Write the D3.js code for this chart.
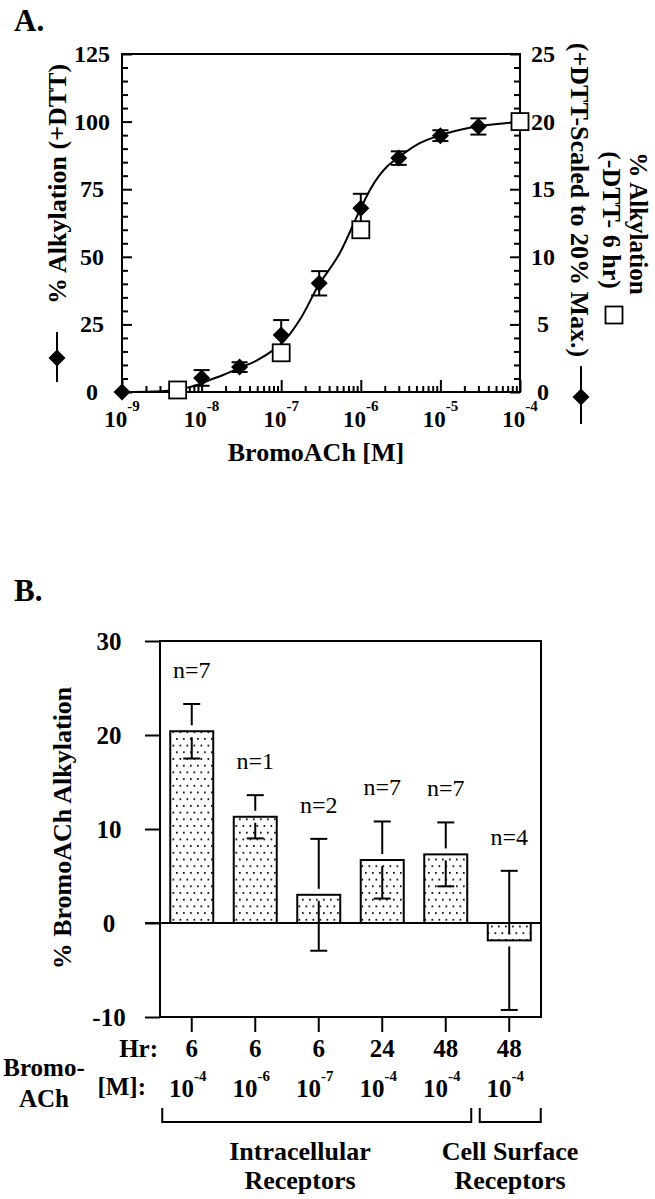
<!DOCTYPE html>
<html><head><meta charset="utf-8">
<script src="https://cdn.jsdelivr.net/npm/d3@7"></script>
<style>
html,body{margin:0;padding:0;background:#fff;}
svg text{font-family:"Liberation Serif","Times New Roman",serif;fill:#000;}
</style></head>
<body>
<svg id="c" width="655" height="1199"></svg>
<script>
// ---------- Panel A data ----------
const concA = [1e-9, 1e-8, 3e-8, 1e-7, 3e-7, 1e-6, 3e-6, 1e-5, 3e-5, 1e-4];
const alkDTT = [0, 5.2, 9.2, 21.1, 40.2, 68, 86.5, 94.8, 98.2, 100];
const alkDTTErr = [0, 2.9, 1.8, 5.5, 4.5, 5.3, 2.5, 2, 3, 0];
const concSq = [5e-9, 1e-7, 1e-6, 1e-4];
const alkNoDTT = [0.15, 2.9, 12.0, 20.0];           // right axis units
const curveExp = [-9, -8.5, -8.3, -8.15, -8.06, -7.9, -7.73, -7.52, -7.3, -7.1, -6.99, -6.76, -6.54, -6.26, -6.0, -5.88, -5.67, -5.55, -5.26, -5.02, -4.75, -4.55, -4.25, -4];
const curveVal = [0, 0.3, 1.0, 1.8, 2.6, 4.4, 6.3, 8.9, 11.8, 15.5, 18.1, 27, 39, 51.6, 68, 75, 83.4, 86.2, 92, 94.8, 97, 98.2, 99.2, 100];
const yTicksLeft = [0, 25, 50, 75, 100, 125];
const yTicksRight = [0, 5, 10, 15, 20, 25];
const xTickExp = [-9, -8, -7, -6, -5, -4];

// ---------- Panel B data ----------
const hrs = ["6", "6", "6", "24", "48", "48"];
const concExpB = ["-4", "-6", "-7", "-4", "-4", "-4"];
const meansB = [20.4, 11.3, 3.0, 6.7, 7.3, -1.85];
const errsB = [2.9, 2.3, 5.95, 4.1, 3.4, 7.4];
const nsB = [7, 1, 2, 7, 7, 4];
const yTicksB = [-10, 0, 10, 20, 30];

const svg = d3.select("#c");
const BOLD = "bold";

// pattern
const defs = svg.append("defs");
const pat = defs.append("pattern").attr("id", "dots").attr("patternUnits", "userSpaceOnUse")
  .attr("width", 7).attr("height", 13.4);
pat.append("rect").attr("width", 7).attr("height", 13.4).attr("fill", "#fff");
pat.append("rect").attr("x", 1).attr("y", 1).attr("width", 1.7).attr("height", 1.7).attr("fill", "#000");
pat.append("rect").attr("x", 4.5).attr("y", 7.7).attr("width", 1.7).attr("height", 1.7).attr("fill", "#000");

// ================= Panel A =================
const xA = d3.scaleLog().domain([1e-9, 1e-4]).range([122, 520]);
const yA = d3.scaleLinear().domain([0, 125]).range([392, 54]);
const yA2 = d3.scaleLinear().domain([0, 25]).range([392, 54]);
const gA = svg.append("g");

svg.append("text").attr("x", 14).attr("y", 31).attr("font-size", 31).attr("font-weight", BOLD).text("A.");

// frame
gA.append("rect").attr("x", xA.range()[0]).attr("y", yA.range()[1])
  .attr("width", xA.range()[1] - xA.range()[0]).attr("height", yA.range()[0] - yA.range()[1])
  .attr("fill", "none").attr("stroke", "#000").attr("stroke-width", 2);

// left ticks (inward)
const leftAxis = d3.axisRight(yA).tickValues(d3.range(0, 126, 5)).tickSize(6).tickFormat("");
const gl = gA.append("g").attr("transform", `translate(${xA.range()[0]},0)`).call(leftAxis);
gl.select(".domain").remove();
gl.selectAll(".tick line").attr("stroke-width", 2).attr("x2", d => d % 25 === 0 ? 10 : 6);
// right ticks (inward)
const rightAxis = d3.axisLeft(yA2).tickValues(d3.range(0, 26, 1)).tickSize(6).tickFormat("");
const gr = gA.append("g").attr("transform", `translate(${xA.range()[1]},0)`).call(rightAxis);
gr.select(".domain").remove();
gr.selectAll(".tick line").attr("stroke-width", 2).attr("x2", d => d % 5 === 0 ? -10 : -6);
// bottom ticks (inward, log)
const minorX = [];
for (let e = -9; e < -4; e++) for (let m = 1; m <= 9; m++) minorX.push(m * Math.pow(10, e));
minorX.push(1e-4);
const botAxis = d3.axisTop(xA).tickValues(minorX).tickSize(6).tickFormat("");
const gb = gA.append("g").attr("transform", `translate(0,${yA.range()[0]})`).call(botAxis);
gb.select(".domain").remove();
gb.selectAll(".tick line").attr("stroke-width", 2)
  .attr("y2", d => Math.abs(Math.log10(d) - Math.round(Math.log10(d))) < 1e-6 ? -12 : -6);

// tick labels
gA.selectAll(".yl").data(yTicksLeft).enter().append("text")
  .attr("x", 92).attr("y", d => yA(d) + 8).attr("text-anchor", "middle")
  .attr("font-size", 24).attr("font-weight", BOLD).text(d => d);
gA.selectAll(".yr").data(yTicksRight).enter().append("text")
  .attr("x", 543).attr("y", d => yA2(d) + 8).attr("text-anchor", "middle")
  .attr("font-size", 24).attr("font-weight", BOLD).text(d => d);
const xl = gA.selectAll(".xl").data(xTickExp).enter().append("text")
  .attr("x", d => xA(Math.pow(10, d))).attr("y", 427).attr("text-anchor", "middle")
  .attr("font-size", 23).attr("font-weight", BOLD);
xl.append("tspan").text("10");
xl.append("tspan").attr("font-size", 15).attr("dy", -16).text(d => d);

// axis titles
gA.append("text").attr("x", 316).attr("y", 461).attr("text-anchor", "middle")
  .attr("font-size", 26).attr("font-weight", BOLD).text("BromoACh [M]");
gA.append("text").attr("transform", "translate(66,184) rotate(-90)").attr("text-anchor", "middle")
  .attr("font-size", 26).attr("font-weight", BOLD).text("% Alkylation (+DTT)");
gA.append("text").attr("transform", "translate(571,200) rotate(90)").attr("text-anchor", "middle")
  .attr("font-size", 26).attr("font-weight", BOLD).text("(+DTT-Scaled to 20% Max.)");
gA.append("text").attr("transform", "translate(603,220) rotate(90)").attr("text-anchor", "middle")
  .attr("font-size", 26).attr("font-weight", BOLD).text("(-DTT- 6 hr)");
gA.append("text").attr("transform", "translate(630,223.5) rotate(90)").attr("text-anchor", "middle")
  .attr("font-size", 25).attr("font-weight", BOLD).text("% Alkylation");

// legend symbols
const diamond = (cx, cy, r) => `M${cx},${cy - r}L${cx + r},${cy}L${cx},${cy + r}L${cx - r},${cy}Z`;
gA.append("line").attr("x1", 57).attr("x2", 57).attr("y1", 332).attr("y2", 382).attr("stroke", "#000").attr("stroke-width", 2);
gA.append("path").attr("d", diamond(57, 358, 8.5)).attr("fill", "#000");
gA.append("line").attr("x1", 581).attr("x2", 581).attr("y1", 366).attr("y2", 424).attr("stroke", "#000").attr("stroke-width", 2);
gA.append("path").attr("d", diamond(581, 397, 8.5)).attr("fill", "#000");
gA.append("rect").attr("x", 605.5).attr("y", 306.5).attr("width", 17).attr("height", 17)
  .attr("fill", "#fff").attr("stroke", "#000").attr("stroke-width", 1.8);

// curve
const curvePts = curveExp.map((e, i) => [Math.pow(10, e), curveVal[i]]);
gA.append("path").datum(curvePts)
  .attr("d", d3.line().x(d => xA(d[0])).y(d => yA(d[1])).curve(d3.curveMonotoneX))
  .attr("fill", "none").attr("stroke", "#000").attr("stroke-width", 2);

// error bars
const eb = gA.selectAll(".eb").data(concA.map((c, i) => ({c, v: alkDTT[i], e: alkDTTErr[i]})).filter(d => d.e > 0))
  .enter().append("g");
eb.append("line").attr("x1", d => xA(d.c)).attr("x2", d => xA(d.c))
  .attr("y1", d => yA(d.v - d.e)).attr("y2", d => yA(d.v + d.e)).attr("stroke", "#000").attr("stroke-width", 2);
[1, -1].forEach(s => {
  eb.append("line").attr("x1", d => xA(d.c) - 8).attr("x2", d => xA(d.c) + 8)
    .attr("y1", d => yA(d.v + s * d.e)).attr("y2", d => yA(d.v + s * d.e)).attr("stroke", "#000").attr("stroke-width", 2);
});
// diamonds
gA.selectAll(".dm").data(concA.map((c, i) => ({c, v: alkDTT[i]}))).enter().append("path")
  .attr("d", d => diamond(xA(d.c), yA(d.v), 8.5)).attr("fill", "#000");
// squares
gA.selectAll(".sq").data(concSq.map((c, i) => ({c, v: alkNoDTT[i]}))).enter().append("rect")
  .attr("x", d => xA(d.c) - 8.5).attr("y", d => yA2(d.v) - 8.5).attr("width", 17).attr("height", 17)
  .attr("fill", "#fff").attr("stroke", "#000").attr("stroke-width", 1.8);

// ================= Panel B =================
const xB = d3.scaleBand().domain(d3.range(hrs.length)).range([160, 541]).paddingInner(0.323).paddingOuter(0.1615);
const yB = d3.scaleLinear().domain([-10, 30]).range([1017, 641]);
const gB = svg.append("g");
svg.append("text").attr("x", 14).attr("y", 601).attr("font-size", 31).attr("font-weight", BOLD).text("B.");

const bw = xB.bandwidth();
// bars
gB.selectAll(".bar").data(meansB).enter().append("rect")
  .attr("x", (d, i) => xB(i)).attr("width", bw)
  .attr("y", d => yB(Math.max(0, d))).attr("height", d => Math.abs(yB(d) - yB(0)))
  .attr("fill", "url(#dots)").attr("stroke", "#000").attr("stroke-width", 2);

// frame
gB.append("rect").attr("x", 160).attr("y", yB(30)).attr("width", 381).attr("height", yB(-10) - yB(30))
  .attr("fill", "none").attr("stroke", "#000").attr("stroke-width", 2);
// zero line
gB.append("line").attr("x1", 145).attr("x2", 541).attr("y1", yB(0)).attr("y2", yB(0)).attr("stroke", "#000").attr("stroke-width", 2);
// left ticks outward
const lb = gB.append("g").attr("transform", "translate(160,0)")
  .call(d3.axisLeft(yB).tickValues(yTicksB).tickSize(15).tickFormat(""));
lb.select(".domain").remove();
lb.selectAll(".tick line").attr("stroke-width", 2);
gB.selectAll(".ybl").data(yTicksB).enter().append("text")
  .attr("x", 109).attr("y", d => yB(d) + 8.5).attr("text-anchor", "middle")
  .attr("font-size", 25).attr("font-weight", BOLD).text(d => d);
// bottom ticks
const bb = gB.append("g").attr("transform", `translate(0,${yB(-10)})`)
  .call(d3.axisBottom(xB).tickSize(15).tickFormat(""));
bb.select(".domain").remove();
bb.selectAll(".tick line").attr("stroke-width", 2);

// error bars (with small gap around the mean)
const ebB = gB.selectAll(".ebB").data(meansB.map((m, i) => ({i, m, e: errsB[i]}))).enter().append("g");
const cx = d => xB(d.i) + bw / 2;
ebB.append("line").attr("x1", cx).attr("x2", cx)
  .attr("y1", d => yB(d.m) - 6).attr("y2", d => yB(d.m + d.e)).attr("stroke", "#000").attr("stroke-width", 2);
ebB.append("line").attr("x1", cx).attr("x2", cx)
  .attr("y1", d => yB(d.m) + 6).attr("y2", d => yB(d.m - d.e)).attr("stroke", "#000").attr("stroke-width", 2);
[1, -1].forEach(s => {
  ebB.append("line").attr("x1", d => cx(d) - 8.5).attr("x2", d => cx(d) + 8.5)
    .attr("y1", d => yB(d.m + s * d.e)).attr("y2", d => yB(d.m + s * d.e)).attr("stroke", "#000").attr("stroke-width", 2);
});
// n labels
gB.selectAll(".nl").data(nsB).enter().append("text")
  .attr("x", (d, i) => xB(i) + bw / 2).attr("y", (d, i) => yB(meansB[i] + errsB[i]) - 26)
  .attr("text-anchor", "middle").attr("font-size", 24).text(d => "n=" + d);

// category labels
gB.append("text").attr("x", 158).attr("y", 1057).attr("text-anchor", "end")
  .attr("font-size", 25).attr("font-weight", BOLD).text("Hr:");
gB.selectAll(".hl").data(hrs).enter().append("text")
  .attr("x", (d, i) => xB(i) + bw / 2).attr("y", 1057).attr("text-anchor", "middle")
  .attr("font-size", 25).attr("font-weight", BOLD).text(d => d);
gB.append("text").attr("x", 146).attr("y", 1095).attr("text-anchor", "end")
  .attr("font-size", 25).attr("font-weight", BOLD).text("[M]:");
gB.append("text").attr("x", 44).attr("y", 1076).attr("text-anchor", "middle")
  .attr("font-size", 25).attr("font-weight", BOLD).text("Bromo-");
gB.append("text").attr("x", 44).attr("y", 1107).attr("text-anchor", "middle")
  .attr("font-size", 25).attr("font-weight", BOLD).text("ACh");
const cl = gB.selectAll(".cl").data(concExpB).enter().append("text")
  .attr("x", (d, i) => xB(i) + bw / 2 - 4).attr("y", 1097).attr("text-anchor", "middle")
  .attr("font-size", 25).attr("font-weight", BOLD);
cl.append("tspan").text("10");
cl.append("tspan").attr("font-size", 15).attr("dy", -16).text(d => d);

// brackets
const br = (x1, x2) => `M${x1},1108V1122H${x2}V1108`;
gB.append("path").attr("d", br(xB(0) - 8, xB(4) + bw + 4)).attr("fill", "none").attr("stroke", "#000").attr("stroke-width", 2);
gB.append("path").attr("d", br(xB(5) - 8, xB(5) + bw + 10)).attr("fill", "none").attr("stroke", "#000").attr("stroke-width", 2);
[["Intracellular", 300], ["Cell Surface", 510]].forEach(([t, x]) => {
  gB.append("text").attr("x", x).attr("y", 1160).attr("text-anchor", "middle")
    .attr("font-size", 26).attr("font-weight", BOLD).text(t);
  gB.append("text").attr("x", x).attr("y", 1189).attr("text-anchor", "middle")
    .attr("font-size", 26).attr("font-weight", BOLD).text("Receptors");
});

// y label B
gB.append("text").attr("transform", "translate(71,828) rotate(-90)").attr("text-anchor", "middle")
  .attr("font-size", 26).attr("font-weight", BOLD).text("% BromoACh Alkylation");
</script>
</body></html>
